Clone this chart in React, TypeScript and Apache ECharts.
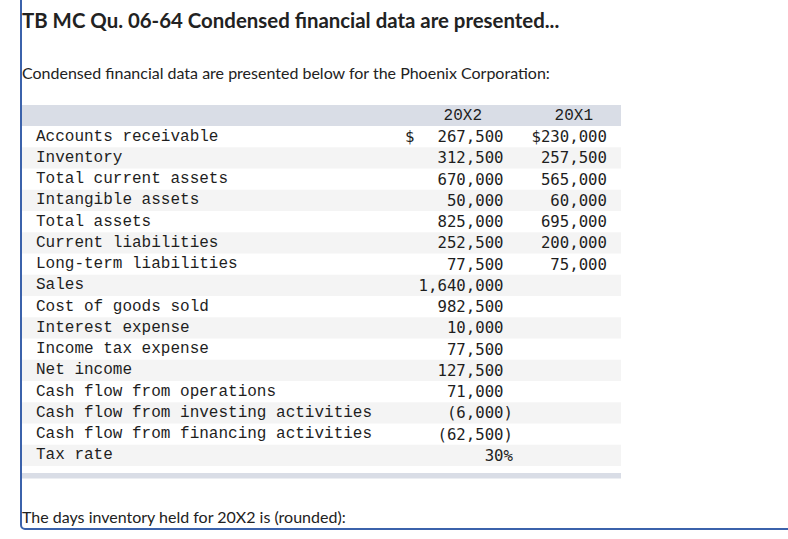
import React, { useEffect, useRef } from "react";
import * as echarts from "echarts";

const title = "TB MC Qu. 06-64 Condensed financial data are presented...";
const intro = "Condensed financial data are presented below for the Phoenix Corporation:";
const question = "The days inventory held for 20X2 is (rounded):";

const columnHeaders = ["20X2", "20X1"];

const rowLabels = [
  "Accounts receivable",
  "Inventory",
  "Total current assets",
  "Intangible assets",
  "Total assets",
  "Current liabilities",
  "Long-term liabilities",
  "Sales",
  "Cost of goods sold",
  "Interest expense",
  "Income tax expense",
  "Net income",
  "Cash flow from operations",
  "Cash flow from investing activities",
  "Cash flow from financing activities",
  "Tax rate",
];

const values20X2: (number | null)[] = [
  267500, 312500, 670000, 50000, 825000, 252500, 77500, 1640000, 982500, 10000,
  77500, 127500, 71000, -6000, -62500, 30,
];

const values20X1: (number | null)[] = [
  230000, 257500, 565000, 60000, 695000, 200000, 75000, null, null, null, null,
  null, null, null, null, null,
];

const percentRows = ["Tax rate"];

function fmt(v: number | null, label: string): string {
  if (v === null) return "";
  if (percentRows.includes(label)) return `${v}%`;
  const s = Math.abs(v).toLocaleString("en-US");
  return v < 0 ? `(${s})` : `${s} `;
}

export default function App() {
  const ref = useRef<HTMLDivElement>(null);

  useEffect(() => {
    if (!ref.current) return;
    const chart = echarts.init(ref.current, null, { renderer: "svg" });

    const tableLeft = 22;
    const tableRight = 621;
    const headerTop = 105;
    const headerH = 21;
    const rowH = 21.25;
    const bodyTop = headerTop + headerH;
    const labelX = 36;
    const col2Right = 513;
    const col1Right = 607;
    const monoLabel = "16px 'Liberation Mono', 'Courier New', monospace";
    const monoNum = "15.7px 'DejaVu Sans Mono', Menlo, monospace";
    const textColor = "#1e1e1e";
    const sans = "Lato, 'Open Sans', sans-serif";

    const elements: any[] = [];

    // border (left + bottom with rounded corner)
    elements.push({
      type: "rect",
      shape: { x: 21, y: -20, width: 800, height: 549, r: 4 },
      style: { fill: "none", stroke: "#3b62ab", lineWidth: 2 },
    });

    elements.push({
      type: "text",
      x: 22,
      y: 20,
      style: {
        text: title,
        font: `bold 20.4px ${sans}`,
        fill: "#222",
        align: "left",
        verticalAlign: "middle",
      },
    });

    elements.push({
      type: "text",
      x: 22,
      y: 72,
      style: {
        text: intro,
        font: `16px ${sans}`,
        fill: "#222",
        align: "left",
        verticalAlign: "middle",
      },
    });

    // header band
    elements.push({
      type: "rect",
      shape: { x: tableLeft, y: headerTop, width: tableRight - tableLeft, height: headerH },
      style: { fill: "#d9dde6" },
    });
    elements.push({
      type: "text",
      x: col2Right - 31,
      y: headerTop + headerH / 2,
      style: { text: columnHeaders[0], font: monoLabel, fill: textColor, align: "right", verticalAlign: "middle" },
    });
    elements.push({
      type: "text",
      x: col1Right - 14,
      y: headerTop + headerH / 2,
      style: { text: columnHeaders[1], font: monoLabel, fill: textColor, align: "right", verticalAlign: "middle" },
    });

    rowLabels.forEach((label, i) => {
      const top = bodyTop + i * rowH;
      const cy = top + rowH / 2;
      if (i % 2 === 1) {
        elements.push({
          type: "rect",
          shape: { x: tableLeft, y: top, width: tableRight - tableLeft, height: rowH },
          style: { fill: "#f4f4f4" },
        });
      }
      elements.push({
        type: "text",
        x: labelX,
        y: cy,
        style: { text: label, font: monoLabel, fill: textColor, align: "left", verticalAlign: "middle" },
      });
      const v2 = fmt(values20X2[i], label);
      if (v2) {
        elements.push({
          type: "text",
          x: col2Right,
          y: cy,
          style: { text: v2, font: monoNum, fill: textColor, align: "right", verticalAlign: "middle" },
        });
      }
      const v1 = fmt(values20X1[i], label);
      if (v1) {
        elements.push({
          type: "text",
          x: col1Right,
          y: cy,
          style: { text: i === 0 ? `$${v1.trim()}` : v1.trim(), font: monoNum, fill: textColor, align: "right", verticalAlign: "middle" },
        });
      }
      if (i === 0) {
        elements.push({
          type: "text",
          x: 405,
          y: cy,
          style: { text: "$", font: monoNum, fill: textColor, align: "left", verticalAlign: "middle" },
        });
      }
    });

    const footerTop = bodyTop + rowLabels.length * rowH + 7;
    elements.push({
      type: "rect",
      shape: { x: tableLeft, y: footerTop, width: tableRight - tableLeft, height: 5.5 },
      style: { fill: "#d9dde6" },
    });

    elements.push({
      type: "text",
      x: 22,
      y: 516,
      style: {
        text: question,
        font: `16px ${sans}`,
        fill: "#222",
        align: "left",
        verticalAlign: "middle",
      },
    });

    chart.setOption({
      animation: false,
      backgroundColor: "#ffffff",
      graphic: { elements },
    });

    return () => chart.dispose();
  }, []);

  return (
    <div
      ref={ref}
      style={{ position: "fixed", left: 0, top: 0, width: 788, height: 539, background: "#fff" }}
    />
  );
}
